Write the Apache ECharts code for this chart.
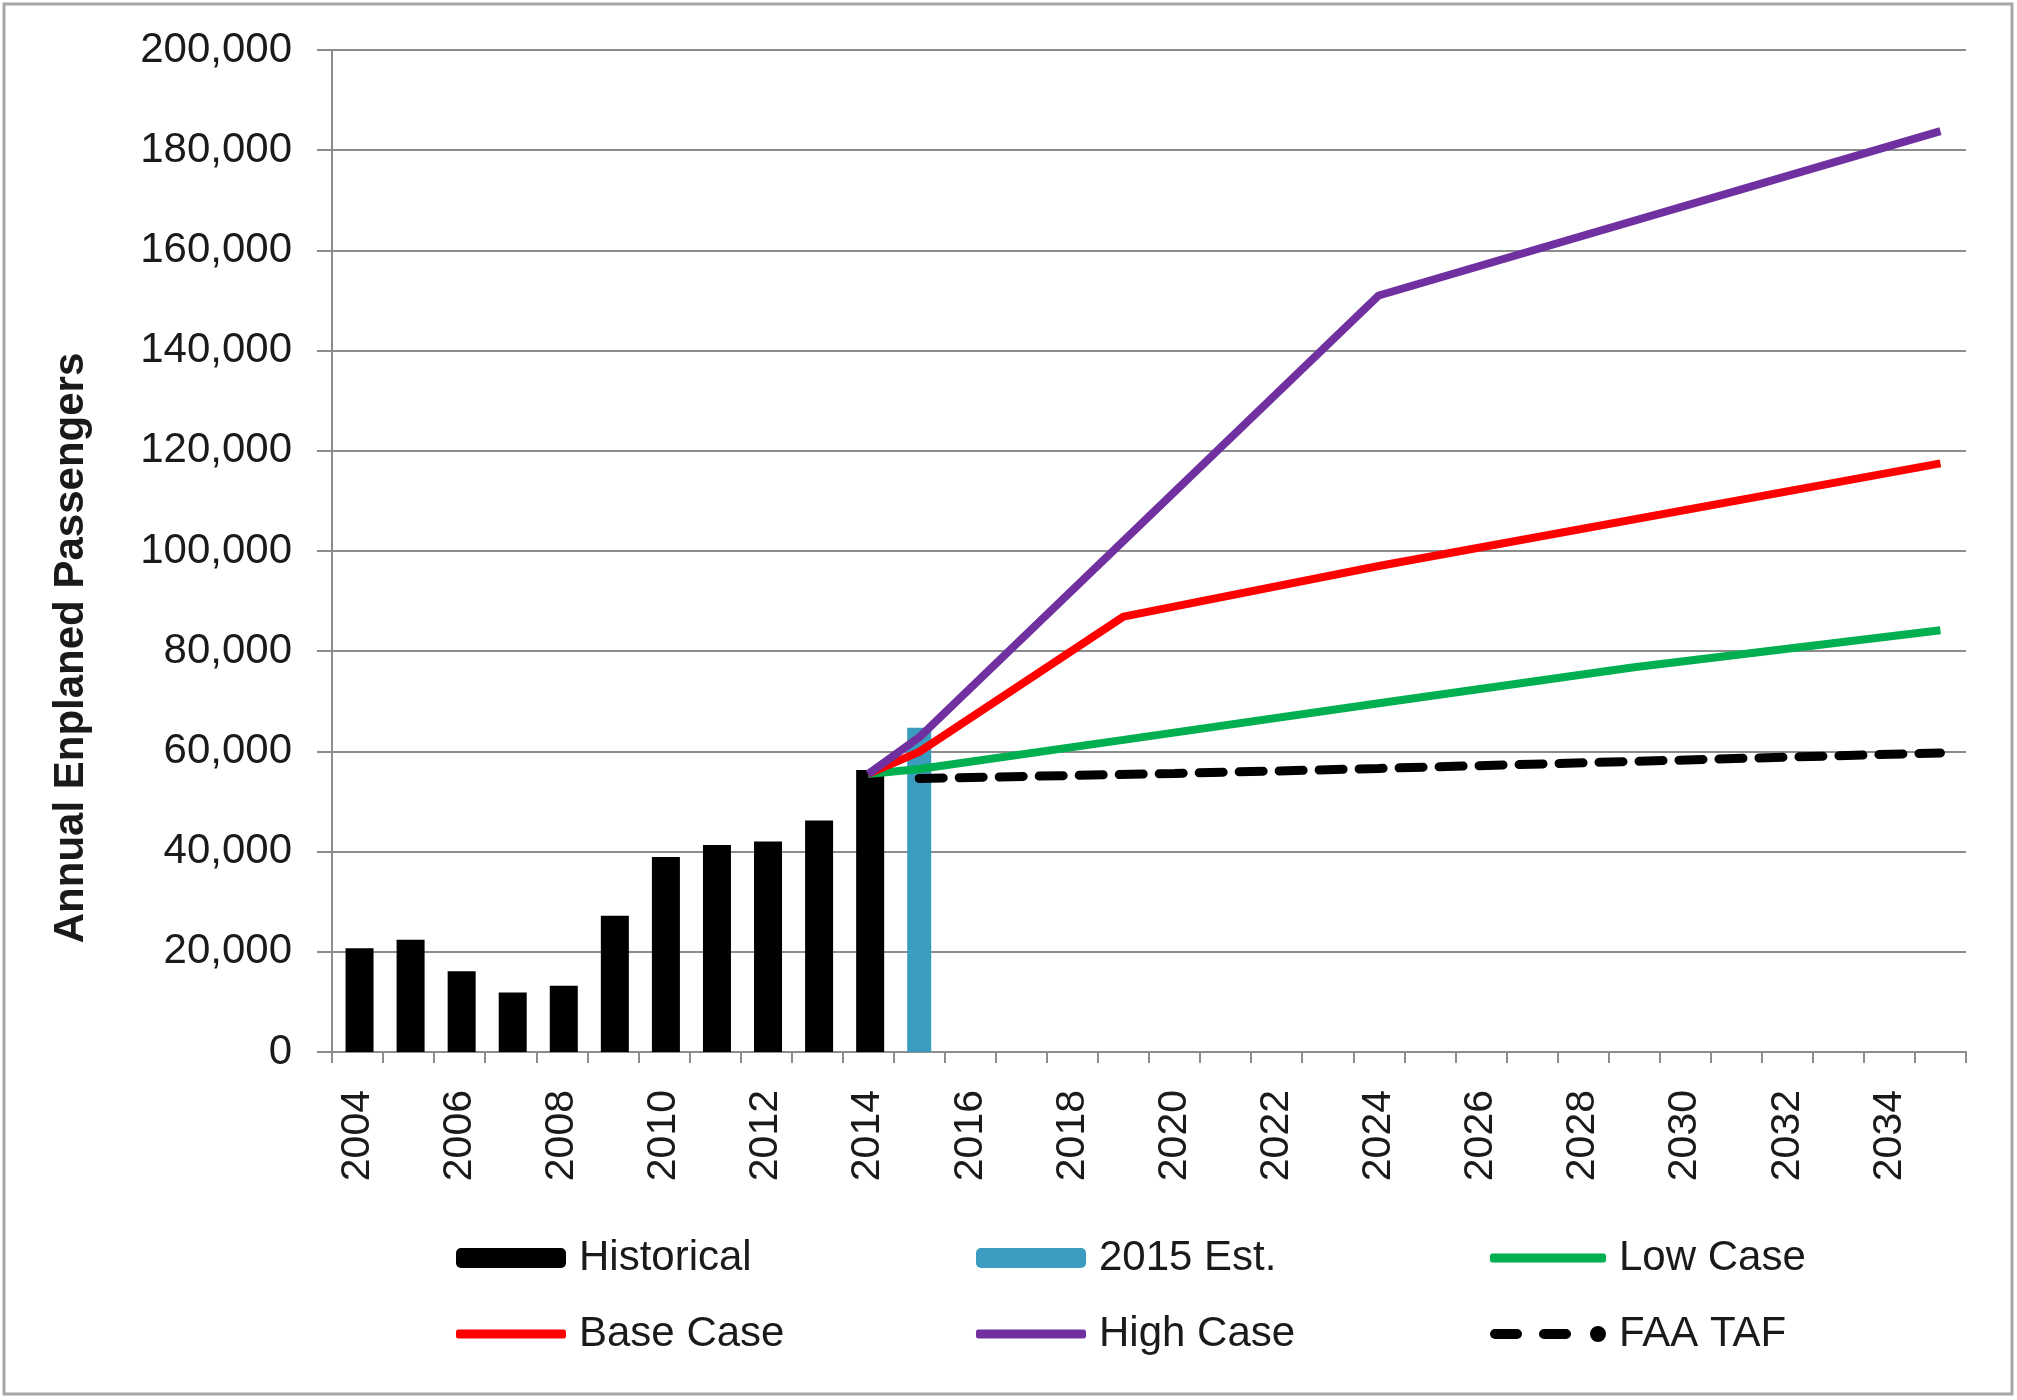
<!DOCTYPE html>
<html>
<head>
<meta charset="utf-8">
<script src="https://cdn.jsdelivr.net/npm/echarts@6/dist/echarts.min.js"></script>
<style>
html,body{margin:0;padding:0;background:#fff;}
#chart{width:2017px;height:1400px;}
</style>
</head>
<body>
<div id="chart"></div>
<script>
const years = ['2004','2005','2006','2007','2008','2009','2010','2011','2012','2013','2014','2015','2016','2017','2018','2019','2020','2021','2022','2023','2024','2025','2026','2027','2028','2029','2030','2031','2032','2033','2034','2035'];
const _ = null;
const historical = [20700,22400,16100,11900,13200,27200,38900,41300,42000,46200,56300,_,_,_,_,_,_,_,_,_,_,_,_,_,_,_,_,_,_,_,_,_];
const est2015   = [_,_,_,_,_,_,_,_,_,_,_,64700,_,_,_,_,_,_,_,_,_,_,_,_,_,_,_,_,_,_,_,_];
const lowCase   = [_,_,_,_,_,_,_,_,_,_,55500,56500,_,_,_,62300,_,_,_,_,69600,_,_,_,_,76800,_,_,_,_,_,84200];
const baseCase  = [_,_,_,_,_,_,_,_,_,_,55500,59900,_,_,_,86900,_,_,_,_,97000,_,_,_,_,_,_,_,_,_,_,117500];
const highCase  = [_,_,_,_,_,_,_,_,_,_,55500,62800,_,_,_,_,_,_,_,_,151000,_,_,_,_,_,_,_,_,_,_,183800];
const faaTaf    = [_,_,_,_,_,_,_,_,_,_,_,54600,_,_,_,_,55600,_,_,_,56600,_,_,_,_,_,_,_,_,_,_,59700];
const yTicks = [0,20000,40000,60000,80000,100000,120000,140000,160000,180000,200000];
const yTitle = 'Annual Enplaned Passengers';

const FONT = "'Liberation Sans', Arial, sans-serif";
const chart = echarts.init(document.getElementById('chart'));
const fmt = v => String(v).replace(/\B(?=(\d{3})+(?!\d))/g, ',');
const dashIcon = 'path://M5,3L27,3A5,5,0,0,1,27,13L5,13A5,5,0,0,1,5,3Z M54,3L76,3A5,5,0,0,1,76,13L54,13A5,5,0,0,1,54,3Z M100,8A8,8,0,1,1,116,8A8,8,0,1,1,100,8Z';

function leg(name, left, top, icon, w, h) {
  return {
    data: [name], left: left, top: top, icon: icon,
    itemWidth: w, itemHeight: h, itemGap: 0, padding: 0,
    textStyle: {fontFamily: FONT, fontSize: 42, color: '#1a1a1a', padding: [0,0,0,8]}
  };
}

chart.setOption({
  animation: false,
  backgroundColor: '#ffffff',
  graphic: [{
    type: 'rect', shape: {x: 4, y: 4, width: 2008, height: 1390},
    style: {fill: 'none', stroke: '#a6a6a6', lineWidth: 3}, silent: true
  }, {
    type: 'text', x: 71, y: 648, rotation: Math.PI / 2, silent: true,
    style: {text: yTitle, fontFamily: FONT, fontSize: 42, fontWeight: 'bold', fill: '#1a1a1a',
            align: 'center', verticalAlign: 'middle'}
  }],
  grid: {left: 332, right: 51, top: 50, bottom: 348, containLabel: false},
  legend: [
    leg('Historical', 456, 1237, 'roundRect', 110, 20),
    leg('2015 Est.', 976, 1237, 'roundRect', 110, 20),
    leg('Low Case', 1490, 1237, 'roundRect', 116, 9),
    leg('Base Case', 456, 1313, 'roundRect', 110, 9),
    leg('High Case', 976, 1313, 'roundRect', 110, 9),
    leg('FAA TAF', 1490, 1313, dashIcon, 116, 16)
  ],
  xAxis: {
    type: 'category', data: years, boundaryGap: true,
    axisLine: {lineStyle: {color: '#8c8c8c', width: 2}},
    axisTick: {show: true, interval: 0, length: 11, lineStyle: {color: '#8c8c8c', width: 2}},
    axisLabel: {interval: 1, rotate: 90, margin: 38, fontFamily: FONT, fontSize: 41, color: '#1a1a1a'}
  },
  yAxis: {
    type: 'value', min: 0, max: 200000, interval: 20000,
    axisLine: {show: true, lineStyle: {color: '#8c8c8c', width: 2}},
    axisTick: {show: true, length: 15, lineStyle: {color: '#8c8c8c', width: 2}},
    axisLabel: {margin: 40, fontFamily: FONT, fontSize: 42, color: '#1a1a1a', formatter: fmt},
    splitLine: {lineStyle: {color: '#8c8c8c', width: 2}}
  },
  series: [
    {name: 'Historical', type: 'bar', data: historical, barWidth: 28, barGap: '-100%',
     itemStyle: {color: '#000000'}},
    {name: '2015 Est.', type: 'bar', data: est2015, barWidth: 24, barGap: '-100%',
     itemStyle: {color: '#3a9dbf'}},
    {name: 'Low Case', type: 'line', data: lowCase, connectNulls: true, symbol: 'none',
     lineStyle: {color: '#00b050', width: 8}, itemStyle: {color: '#00b050'}, z: 3},
    {name: 'Base Case', type: 'line', data: baseCase, connectNulls: true, symbol: 'none',
     lineStyle: {color: '#ff0000', width: 8}, itemStyle: {color: '#ff0000'}, z: 4},
    {name: 'High Case', type: 'line', data: highCase, connectNulls: true, symbol: 'none',
     lineStyle: {color: '#7030a0', width: 8}, itemStyle: {color: '#7030a0'}, z: 5},
    {name: 'FAA TAF', type: 'line', data: faaTaf, connectNulls: true, symbol: 'none',
     lineStyle: {color: '#000000', width: 9, type: [24, 16], cap: 'round'}, itemStyle: {color: '#000000'}, z: 6}
  ]
});
</script>
</body>
</html>
